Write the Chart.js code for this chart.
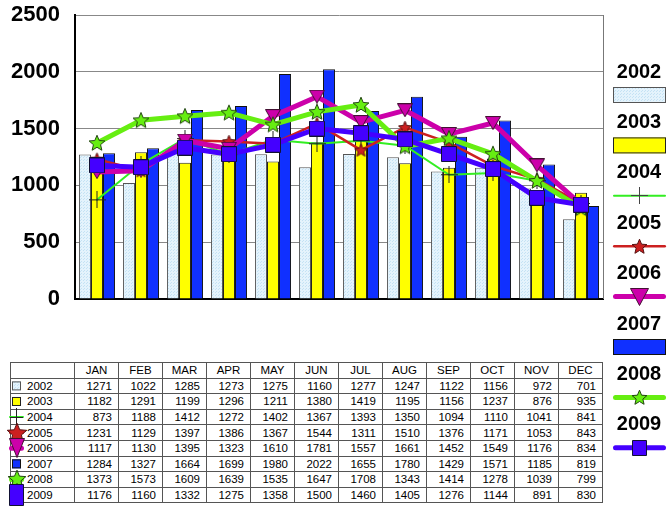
<!DOCTYPE html>
<html>
<head>
<meta charset="utf-8">
<script src="https://cdn.jsdelivr.net/npm/chart.js@4.4.0/dist/chart.umd.min.js"></script>
<style>
  html, body { margin: 0; padding: 0; background: #fff; }
  #wrap { position: relative; width: 670px; height: 506px; overflow: hidden; }
  #chart { position: absolute; left: 0; top: 0; z-index: 2; }
  #tbl {
    position: absolute; left: 10px; top: 362px; z-index: 1;
    border-collapse: collapse; table-layout: fixed;
    font-family: Arial, "Liberation Sans", sans-serif; font-size: 11.5px; color: #000;
  }
  #tbl td { border: 1px solid #555; height: 14.6px; line-height: 14px; padding: 0 6px 0 0; text-align: right; white-space: nowrap; }
  #tbl tr:first-child td { text-align: center; padding: 0; }
  #tbl td.name { text-align: left; padding-left: 16px; }
</style>
</head>
<body>
<div id="wrap">
  <table id="tbl"></table>
  <canvas id="chart" width="670" height="506"></canvas>
</div>
<script>
var months = ["JAN", "FEB", "MAR", "APR", "MAY", "JUN", "JUL", "AUG", "SEP", "OCT", "NOV", "DEC"];
var y2002 = [1271, 1022, 1285, 1273, 1275, 1160, 1277, 1247, 1122, 1156, 972, 701];
var y2003 = [1182, 1291, 1199, 1296, 1211, 1380, 1419, 1195, 1156, 1237, 876, 935];
var y2004 = [873, 1188, 1412, 1272, 1402, 1367, 1393, 1350, 1094, 1110, 1041, 841];
var y2005 = [1231, 1129, 1397, 1386, 1367, 1544, 1311, 1510, 1376, 1171, 1053, 843];
var y2006 = [1117, 1130, 1395, 1323, 1610, 1781, 1557, 1661, 1452, 1549, 1176, 834];
var y2007 = [1284, 1327, 1664, 1699, 1980, 2022, 1655, 1780, 1429, 1571, 1185, 819];
var y2008 = [1373, 1573, 1609, 1639, 1535, 1647, 1708, 1343, 1414, 1278, 1039, 799];
var y2009 = [1176, 1160, 1332, 1275, 1358, 1500, 1460, 1405, 1276, 1144, 891, 830];
var yMin = 0, yMax = 2500, yStep = 500;

// small canvases used as point styles and legend keys
function makeMarker(kind, w, h, fill, stroke) {
    var c = document.createElement("canvas");
    c.width = w; c.height = h;
    var g = c.getContext("2d");
    g.fillStyle = fill; g.strokeStyle = stroke; g.lineWidth = 1;
    g.beginPath();
    if (kind === "star") {
        var cx = w / 2, cy = h / 2 + 0.5, ro = Math.min(w, h) / 2 - 0.7, ri = ro * 0.45;
        for (var i = 0; i < 10; i++) {
            var r = i % 2 ? ri : ro, a = -Math.PI / 2 + i * Math.PI / 5;
            g.lineTo(cx + r * Math.cos(a), cy + r * Math.sin(a));
        }
        g.closePath(); g.fill(); g.stroke();
    } else if (kind === "tri") {
        g.moveTo(0.5, 0.5); g.lineTo(w - 0.5, 0.5); g.lineTo(w / 2, h - 0.5);
        g.closePath(); g.fill(); g.stroke();
    } else if (kind === "square") {
        g.rect(0.5, 0.5, w - 1, h - 1); g.fill(); g.stroke();
    } else if (kind === "cross") {
        g.moveTo(Math.floor(w / 2) + 0.5, 0); g.lineTo(Math.floor(w / 2) + 0.5, h);
        g.moveTo(0, Math.floor(h / 2) + 0.5); g.lineTo(w, Math.floor(h / 2) + 0.5);
        g.stroke();
    }
    return c;
}

// dotted light-blue fill for the 2002 bars
function dotPattern() {
    var c = document.createElement("canvas");
    c.width = 3; c.height = 3;
    var g = c.getContext("2d");
    g.fillStyle = "#e4f3fc"; g.fillRect(0, 0, 3, 3);
    g.fillStyle = "#c4e2f4"; g.fillRect(0, 0, 1, 1); g.fillRect(2, 1, 1, 1);
    return document.createElement("canvas").getContext("2d").createPattern(c, "repeat");
}

var fill2002 = dotPattern();

// marker: on the plot, badge: side legend, key: table column
var series = [
    { label: "2002", kind: "bar", data: y2002, color: fill2002, edge: "#555" },
    { label: "2003", kind: "bar", data: y2003, color: "#ffff00", edge: "#222" },
    { label: "2004", kind: "line", data: y2004, color: "#33ee22", width: 2,
      marker: makeMarker("cross", 17, 17, "#000", "#222"), badge: makeMarker("cross", 17, 17, "#000", "#444"), key: makeMarker("cross", 13, 19, "#000", "#222") },
    { label: "2005", kind: "line", data: y2005, color: "#cc2020", width: 2.5,
      marker: makeMarker("star", 15, 15, "#cc2020", "#551111"), badge: makeMarker("star", 17, 17, "#cc2020", "#551111"), key: makeMarker("star", 22, 22, "#cc2020", "#551111") },
    { label: "2006", kind: "line", data: y2006, color: "#cc00aa", width: 5,
      marker: makeMarker("tri", 16, 14, "#cc00aa", "#441133"), badge: makeMarker("tri", 19, 18, "#cc00aa", "#441133"), key: makeMarker("tri", 16, 20, "#cc00aa", "#441133") },
    { label: "2007", kind: "bar", data: y2007, color: "#1030ff", edge: "#111" },
    { label: "2008", kind: "line", data: y2008, color: "#66ee11", width: 5,
      marker: makeMarker("star", 18, 18, "#66ee11", "#224411"), badge: makeMarker("star", 17, 17, "#66ee11", "#224411"), key: makeMarker("star", 20, 20, "#66ee11", "#224411") },
    { label: "2009", kind: "line", data: y2009, color: "#4400ff", width: 5,
      marker: makeMarker("square", 16, 16, "#4400ff", "#111133"), badge: makeMarker("square", 15, 16, "#4400ff", "#111133"), key: makeMarker("square", 15, 22, "#4400ff", "#111133") }
];

// line draw order: later years on top of earlier ones
var lineOrder = { "2004": 6, "2005": 5, "2006": 4, "2008": 3, "2009": 2 };

var datasets = series.map(function (s) {
    if (s.kind === "bar") {
        return {
            type: "bar", label: s.label, data: s.data, order: 10,
            backgroundColor: s.color, borderColor: s.edge, borderWidth: 1,
            barPercentage: 1.0, categoryPercentage: 0.82
        };
    }
    return {
        type: "line", label: s.label, data: s.data, order: lineOrder[s.label],
        borderColor: s.color, borderWidth: s.width, tension: 0, fill: false,
        borderCapStyle: "round", borderJoinStyle: "round",
        pointStyle: s.marker, pointRadius: 8, pointHoverRadius: 8
    };
});

// data table under the plot
(function buildTable() {
    var tbl = document.getElementById("tbl");
    var html = "<colgroup><col style='width:64px'>" + months.map(function () { return "<col style='width:44px'>"; }).join("") + "</colgroup>";
    html += "<tr><td></td>" + months.map(function (m) { return "<td>" + m + "</td>"; }).join("") + "</tr>";
    series.forEach(function (s) {
        html += "<tr><td class='name'>" + s.label + "</td>" + s.data.map(function (v) { return "<td>" + v + "</td>"; }).join("") + "</tr>";
    });
    tbl.innerHTML = html;
})();

function drawKey(ctx, s, x0, x1, y, img) {
    if (s.kind === "bar") {
        ctx.fillStyle = s.color;
        ctx.strokeStyle = s.edge;
        ctx.lineWidth = 1;
        var h = x1 - x0 > 30 ? 16 : 9;
        ctx.fillRect(x0, y - h / 2, x1 - x0, h);
        ctx.strokeRect(x0 + 0.5, y - h / 2 + 0.5, x1 - x0 - 1, h - 1);
        return;
    }
    ctx.save();
    ctx.strokeStyle = s.color;
    ctx.lineWidth = s.width;
    ctx.lineCap = "round";
    ctx.beginPath();
    ctx.moveTo(x0 + s.width / 2, y);
    ctx.lineTo(x1 - s.width / 2, y);
    ctx.stroke();
    ctx.restore();
    var cx = (x0 + x1) / 2;
    ctx.drawImage(img, Math.round(cx - img.width / 2), Math.round(y - img.height / 2));
}

var legendPlugin = {
    id: "sideLegend",
    beforeDatasetsDraw: function (chart) {
        var a = chart.chartArea, ctx = chart.ctx;
        ctx.save();
        ctx.strokeStyle = "#777";
        ctx.lineWidth = 1;
        ctx.beginPath();
        ctx.moveTo(a.right + 0.5, a.top);
        ctx.lineTo(a.right + 0.5, a.bottom);
        ctx.stroke();
        ctx.restore();
    },
    afterDraw: function (chart) {
        var ctx = chart.ctx;
        ctx.save();
        // legend to the right of the plot
        series.forEach(function (s, i) {
            var ty = 72 + i * 50.4;
            ctx.font = "bold 20px Arial, 'Liberation Sans', sans-serif";
            ctx.textAlign = "center";
            ctx.textBaseline = "middle";
            ctx.fillStyle = "#000";
            ctx.fillText(s.label, 639, ty);
            drawKey(ctx, s, 613, 666, ty + 23, s.badge);
        });
        // keys in the first column of the table
        var wrap = document.getElementById("wrap").getBoundingClientRect();
        var rows = document.querySelectorAll("#tbl tr");
        series.forEach(function (s, i) {
            var r = rows[i + 1].getBoundingClientRect();
            var cy = r.top - wrap.top + r.height / 2;
            if (s.kind === "bar") {
                drawKey(ctx, s, 12, 21, cy);
            } else {
                drawKey(ctx, s, 9, 24, cy, s.key);
            }
        });
        ctx.restore();
    }
};

new Chart(document.getElementById("chart"), {
    type: "bar",
    data: { labels: months, datasets: datasets },
    options: {
        responsive: false,
        animation: false,
        devicePixelRatio: 1,
        layout: { padding: { left: 10, top: 15, right: 67, bottom: 199 } },
        plugins: { legend: { display: false }, tooltip: { enabled: false } },
        scales: {
            x: {
                grid: { display: false },
                ticks: { display: false },
                border: { display: true, color: "#000", width: 2 }
            },
            y: {
                min: yMin, max: yMax,
                afterFit: function (scale) {
                    scale.width = 65;
                    scale.paddingTop = 0;
                    scale.paddingBottom = 0;
                },
                ticks: {
                    stepSize: yStep, color: "#000", padding: 15,
                    callback: function (v) { return String(v); },
                    font: { family: "Arial, 'Liberation Sans', sans-serif", size: 22, weight: "bold" }
                },
                grid: { color: "#888", lineWidth: 1, drawTicks: false },
                border: { display: true, color: "#000", width: 2 }
            }
        }
    },
    plugins: [legendPlugin]
});
</script>
</body>
</html>
